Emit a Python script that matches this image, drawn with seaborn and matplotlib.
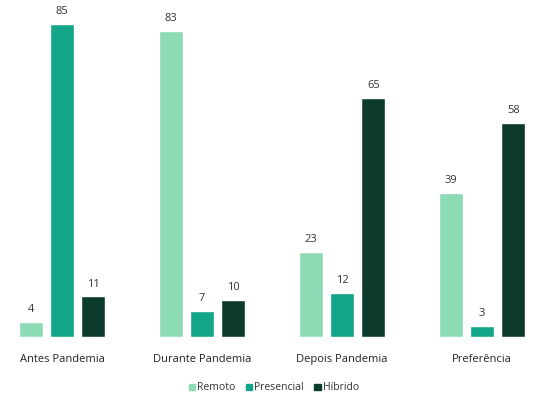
import matplotlib
matplotlib.use("Agg")
import matplotlib.pyplot as plt
import seaborn as sns
import pandas as pd

categories = ["Antes Pandemia", "Durante Pandemia", "Depois Pandemia", "Preferência"]
series = ["Remoto", "Presencial", "Híbrido"]
remoto = [4, 83, 23, 39]
presencial = [85, 7, 12, 3]
hibrido = [11, 10, 65, 58]
colors = ["#8cdbb5", "#13a688", "#0c3b2e"]

rows = []
for name, vals in zip(series, [remoto, presencial, hibrido]):
    for c, v in zip(categories, vals):
        rows.append({"cat": c, "serie": name, "val": v})
df = pd.DataFrame(rows)

sns.set_theme(style="white")
plt.rcParams['font.family'] = ['Open Sans', 'DejaVu Sans']

fig = plt.figure(figsize=(5.53, 3.98), dpi=100)
ax = fig.add_axes([0, 61/398, 1, 337/398])
sns.barplot(data=df, x="cat", y="val", hue="serie", palette=colors,
            width=0.67, gap=0.24, ax=ax, legend=False, saturation=1)
for cont in ax.containers:
    ax.bar_label(cont, padding=5, fontsize=8, color="#333333")
ax.set_xlim(-0.443, 3.507)
ax.set_ylim(0, 91.5)
ax.set_xlabel("")
ax.set_ylabel("")
ax.set_yticks([])
ax.tick_params(axis="x", length=0, pad=12, labelsize=8, labelcolor="#222222")
for s in ax.spines.values():
    s.set_visible(False)

from matplotlib.patches import Patch
handles = [Patch(color=c, label=s) for c, s in zip(colors, series)]
fig.legend(handles=handles, loc="center", bbox_to_anchor=(274/553, 1 - 388/398),
           ncol=3, frameon=False, fontsize=7.5, handlelength=0.6, handleheight=0.6,
           handletextpad=0.2, columnspacing=1.0, labelcolor="#333333")

fig.savefig("out.png", dpi=100)
